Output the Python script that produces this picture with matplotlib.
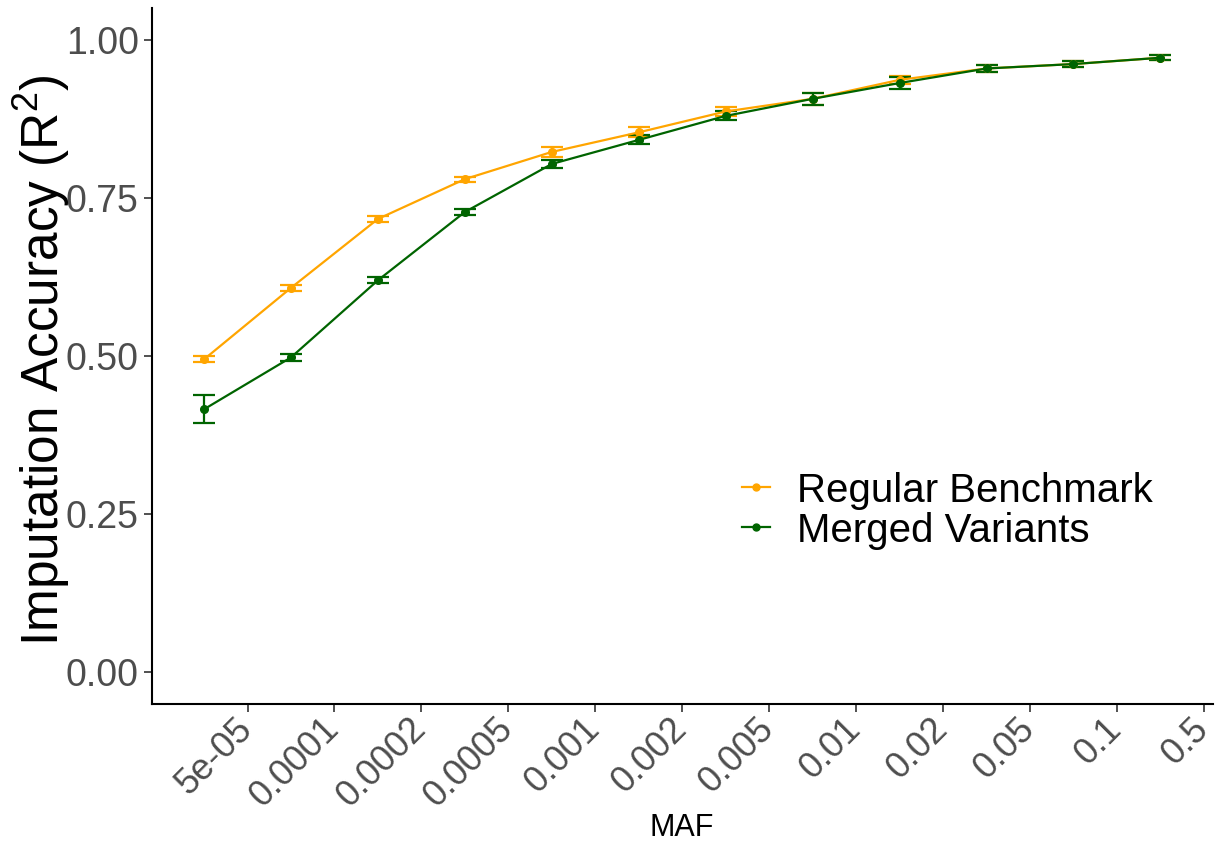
import numpy as np
import matplotlib
matplotlib.use("Agg")
import matplotlib.pyplot as plt
import matplotlib.transforms as mtransforms
from matplotlib.lines import Line2D

plt.rcParams['font.family'] = ['Liberation Sans', 'DejaVu Sans']
plt.rcParams['mathtext.fontset'] = 'custom'
plt.rcParams['mathtext.rm'] = 'Liberation Sans'
plt.rcParams['mathtext.it'] = 'Liberation Sans:italic'

# MAF bins (tick labels sit at the upper edge of each bin)
maf_labels = ['5e-05', '0.0001', '0.0002', '0.0005', '0.001', '0.002',
              '0.005', '0.01', '0.02', '0.05', '0.1', '0.5']

regular = [0.495, 0.608, 0.717, 0.780, 0.823, 0.854, 0.887, 0.907, 0.937, 0.955, 0.962, 0.972]
regular_err = [0.005, 0.005, 0.005, 0.004, 0.008, 0.008, 0.007, 0.009, 0.006, 0.005, 0.005, 0.004]

merged = [0.416, 0.498, 0.620, 0.728, 0.804, 0.842, 0.880, 0.907, 0.932, 0.955, 0.962, 0.972]
merged_err = [0.022, 0.005, 0.005, 0.004, 0.006, 0.007, 0.007, 0.010, 0.009, 0.005, 0.005, 0.004]

x = np.arange(len(maf_labels))

fig = plt.figure(figsize=(12.15, 8.41), dpi=100)
ax = fig.add_axes([0.125, 0.163, 0.873, 0.827])

ax.errorbar(x, regular, yerr=regular_err, color='orange', marker='o', markersize=5.5,
            linewidth=1.6, capsize=8, capthick=1.6, elinewidth=1.6)
ax.errorbar(x, merged, yerr=merged_err, color='darkgreen', marker='o', markersize=5.5,
            linewidth=1.6, capsize=8, capthick=1.6, elinewidth=1.6)

ax.set_xlim(-0.6, 11.6)
ax.set_ylim(-0.05, 1.05)
ax.set_xticks(x + 0.5)
ax.set_xticklabels(maf_labels, rotation=45, ha='right', rotation_mode='anchor',
                   fontsize=26, color='#4D4D4D')
ax.set_yticks([0, 0.25, 0.5, 0.75, 1.0])
ax.set_yticklabels(['0.00', '0.25', '0.50', '0.75', '1.00'], fontsize=27, color='#4D4D4D')
ax.tick_params(axis='both', length=6, width=1.2, color='#333333')
ax.tick_params(axis='x', pad=3)

# pull the rotated labels so their right end sits under the tick
shift = mtransforms.ScaledTranslation(-0.13, 0.05, fig.dpi_scale_trans)
for lab in ax.get_xticklabels():
    lab.set_transform(lab.get_transform() + shift)

for s in ['top', 'right']:
    ax.spines[s].set_visible(False)
for s in ['left', 'bottom']:
    ax.spines[s].set_linewidth(1.5)
    ax.spines[s].set_color('black')

fig.text(682 / 1215, 1 - 828 / 841, 'MAF', fontsize=22, ha='center', va='center')
fig.text(42 / 1215, 1 - 360 / 841, 'Imputation Accuracy (R$^2$)', fontsize=37,
         rotation=90, ha='center', va='center')

handles = [Line2D([0], [0], color='orange', marker='o', markersize=5, linewidth=1.6),
           Line2D([0], [0], color='darkgreen', marker='o', markersize=5, linewidth=1.6)]
ax.legend(handles, ['Regular Benchmark', 'Merged Variants'], loc='center left',
          bbox_to_anchor=(0.522, 0.278), frameon=False, fontsize=29,
          handlelength=0.7, handletextpad=0.67, labelspacing=0.05)

fig.savefig('out.png', dpi=100)
